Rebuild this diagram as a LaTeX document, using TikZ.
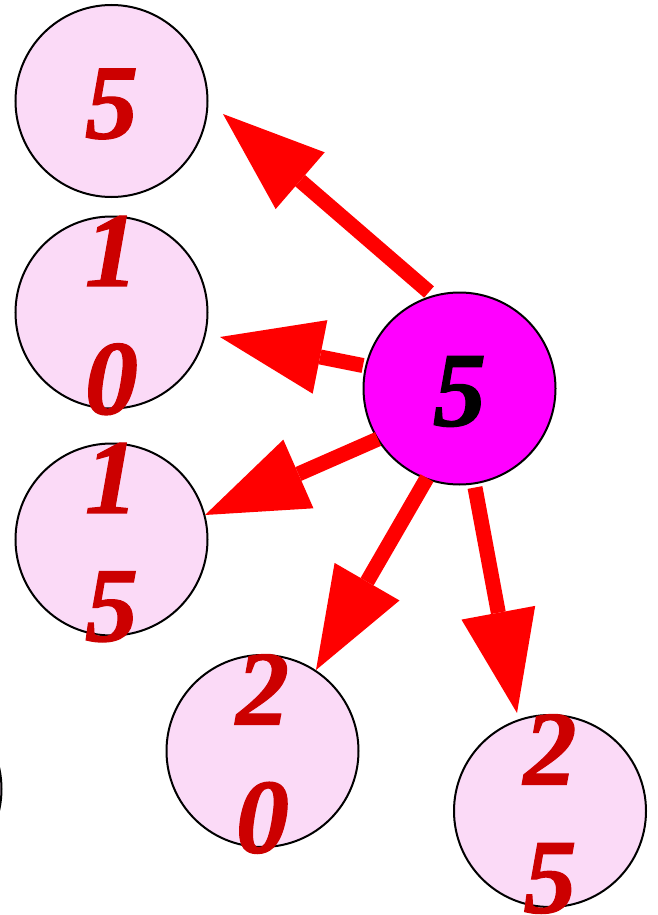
\documentclass[tikz,border=0pt]{standalone}
\usepackage{fontspec}
\setmainfont{Liberation Serif}
\newfontfamily\numfont{Liberation Serif}[BoldItalicFeatures={FakeBold=1.2}]
\usetikzlibrary{arrows.meta}
\definecolor{pinkfill}{HTML}{FBDAF7}
\definecolor{numred}{HTML}{CC0000}
\definecolor{hubfill}{HTML}{FF00FF}
\begin{document}
\begin{tikzpicture}[x=1pt,y=-1pt,
  ball/.style={circle, draw=black, line width=2pt, fill=pinkfill, minimum size=192pt, inner sep=0pt},
  hub/.style={ball, fill=hubfill},
  num/.style={text=numred, font=\numfont\fontsize{106}{128}\selectfont\bfseries\itshape, align=center, inner sep=0pt, yshift=-3pt},
  conn/.style={draw=red, line width=15pt, -{Triangle[length=102pt,width=75pt,line width=0pt]}}]
\useasboundingbox (0,0) rectangle (658,915);
\begin{scope}
\clip (0,0) rectangle (658,915);
\node[ball] (X) at (-94.5,789) {};
\end{scope}
\node[ball] (A) at (111.5,101) {};
\node[ball] (B) at (111.5,312.5) {};
\node[ball] (C) at (111.5,539.5) {};
\node[ball] (D) at (262.5,751) {};
\node[ball] (E) at (550,811) {};
\node[hub] (H) at (459.5,388.5) {};
\node[num] (tA) at (A) {5};
\node[num] (tB) at (B) {1\\0};
\node[num] (tC) at (C) {1\\5};
\node[num] (tD) at (D) {2\\0};
\node[num] (tE) at (E) {2\\5};
\node[num, text=black] (tH) at (H) {5};
\coordinate (s1) at (429,292);
\coordinate (e1) at (223,114);
\coordinate (s2) at (363,365.5);
\coordinate (e2) at (220,337);
\coordinate (s3) at (378,439);
\coordinate (e3) at (205,515);
\coordinate (s4) at (427,478);
\coordinate (e4) at (316,670);
\coordinate (s5) at (475,487.5);
\coordinate (e5) at (517,713);
\draw[conn] (s1) -- (e1);
\draw[conn] (s2) -- (e2);
\draw[conn] (s3) -- (e3);
\draw[conn] (s4) -- (e4);
\draw[conn] (s5) -- (e5);
\end{tikzpicture}
\end{document}
